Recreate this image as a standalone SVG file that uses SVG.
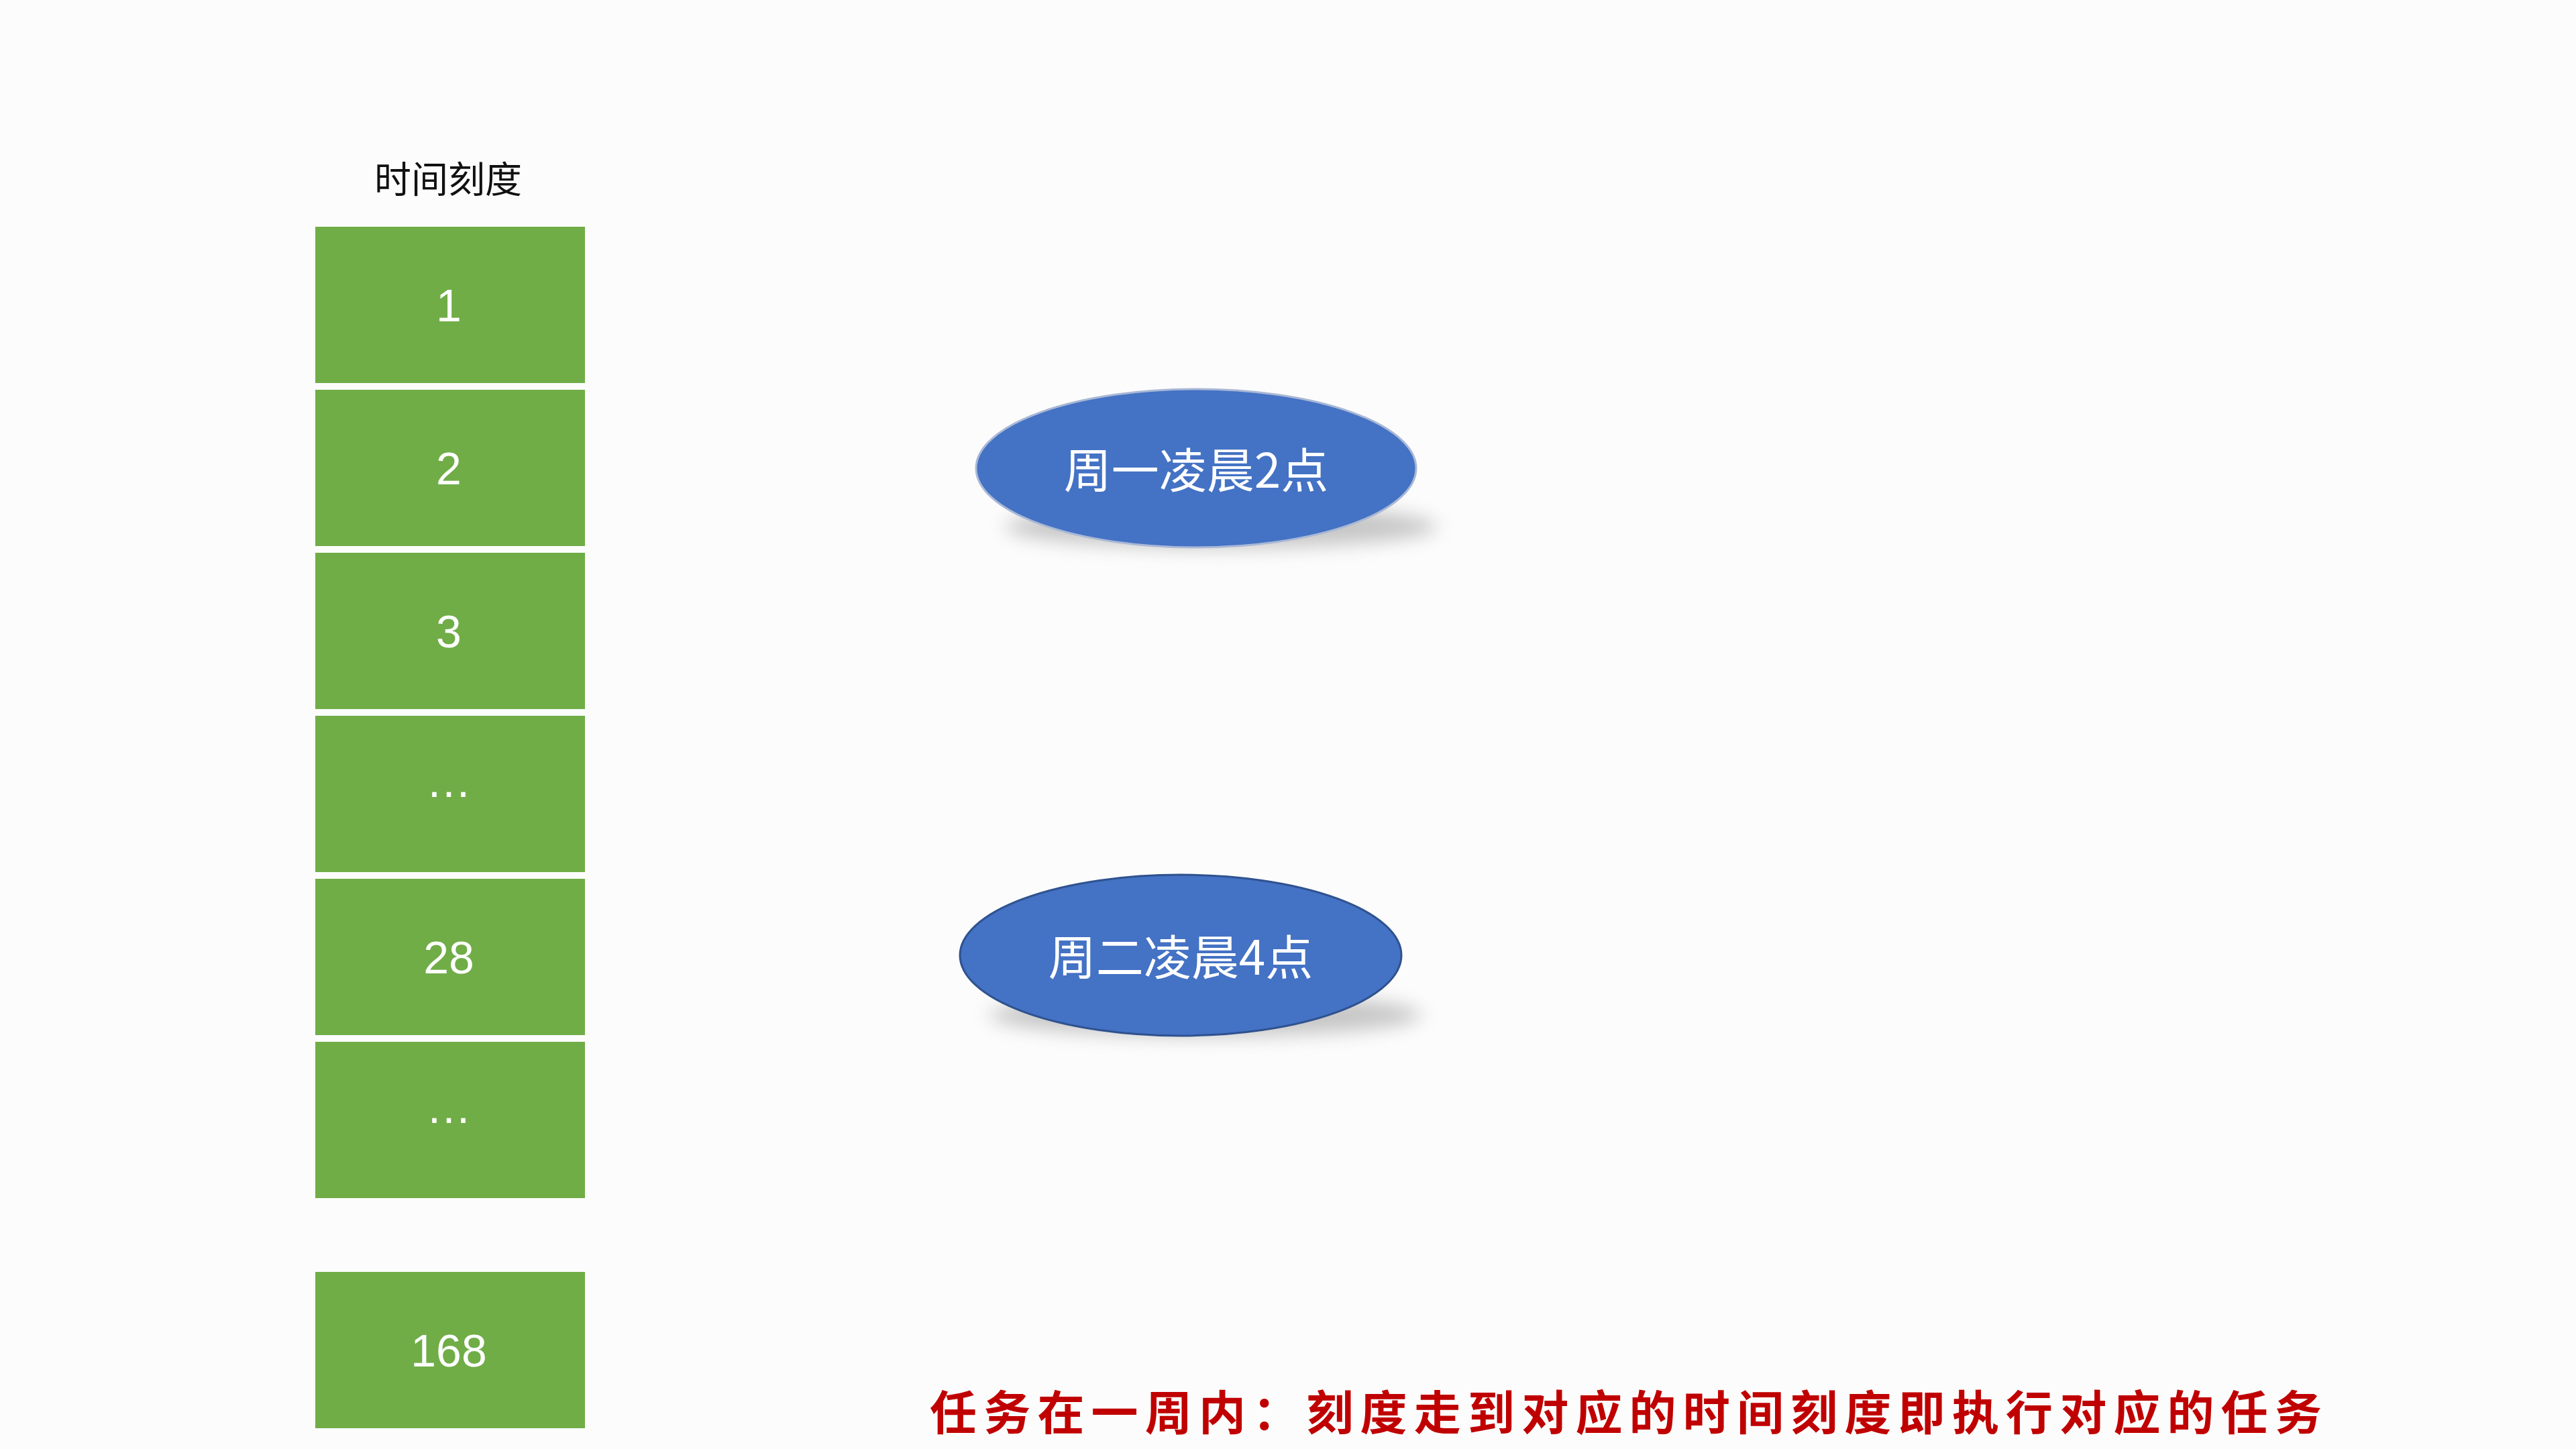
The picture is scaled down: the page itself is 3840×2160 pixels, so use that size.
<svg xmlns="http://www.w3.org/2000/svg" width="3840" height="2160" viewBox="0 0 3840 2160">
<defs>
<style>
.cell{fill:#70AD47}
.num{font-family:"Liberation Sans","Noto Sans",sans-serif;font-size:68px;fill:#FFFFFF;text-anchor:middle;dominant-baseline:central}
.title{font-family:"Noto Sans CJK SC","Noto Sans",sans-serif;font-size:55px;fill:#111111;text-anchor:middle;dominant-baseline:central}
.task{font-family:"Noto Sans CJK SC","Noto Sans",sans-serif;font-size:71px;fill:#FFFFFF;text-anchor:middle;dominant-baseline:central}
.note{font-family:"Noto Sans CJK SC",sans-serif;font-size:70px;font-weight:bold;fill:#C00000;dominant-baseline:central}
.shadow{fill:#9a9a9a;opacity:0.55;filter:url(#blur)}
</style>
<filter id="blur" x="-20%" y="-50%" width="140%" height="200%">
<feGaussianBlur stdDeviation="14"/>
</filter>
</defs>
<rect width="3840" height="2160" fill="#FCFCFC"/>
<g id="title"><text class="title" x="668" y="263">时间刻度</text></g>
<g id="cell-1"><rect class="cell" x="470" y="338" width="402" height="233"/><text class="num" x="669" y="455">1</text></g>
<g id="cell-2"><rect class="cell" x="470" y="581" width="402" height="233"/><text class="num" x="669" y="698">2</text></g>
<g id="cell-3"><rect class="cell" x="470" y="824" width="402" height="233"/><text class="num" x="669" y="941">3</text></g>
<g id="cell-4"><rect class="cell" x="470" y="1067" width="402" height="233"/><text class="num" x="669" y="1164">…</text></g>
<g id="cell-28"><rect class="cell" x="470" y="1310" width="402" height="233"/><text class="num" x="669" y="1427">28</text></g>
<g id="cell-6"><rect class="cell" x="470" y="1553" width="402" height="233"/><text class="num" x="669" y="1650">…</text></g>
<g id="cell-168"><rect class="cell" x="470" y="1896" width="402" height="233"/><text class="num" x="669" y="2013">168</text></g>
<g id="task-1">
<ellipse class="shadow" cx="1820" cy="785" rx="322" ry="32"/>
<ellipse cx="1783" cy="698" rx="328" ry="118" fill="#4472C4" stroke="#A9B8D6" stroke-width="3"/>
<text class="task" x="1783" y="696">周一凌晨2点</text>
</g>
<g id="task-2">
<ellipse class="shadow" cx="1797" cy="1513" rx="322" ry="32"/>
<ellipse cx="1760" cy="1424" rx="329" ry="120" fill="#4472C4" stroke="#2F528F" stroke-width="3"/>
<text class="task" x="1760" y="1422">周二凌晨4点</text>
</g>
<g id="connectors"></g>
<g id="note"><text class="note" x="1386" y="2101" textLength="2075" lengthAdjust="spacing">任务在一周内：刻度走到对应的时间刻度即执行对应的任务</text></g>
</svg>
